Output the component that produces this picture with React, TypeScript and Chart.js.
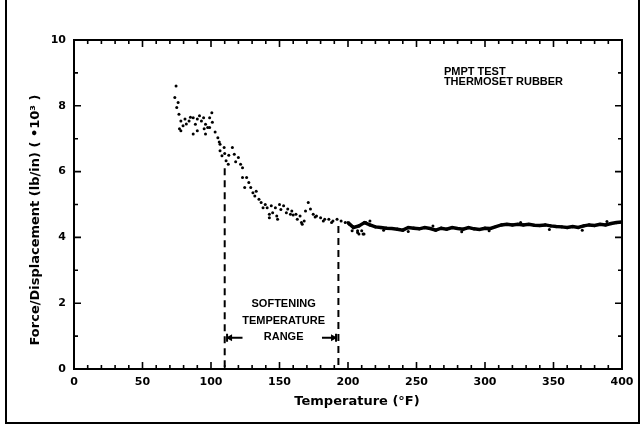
import { useEffect, useRef } from 'react';
import { Chart, registerables } from 'chart.js';

Chart.register(...registerables);

// ---- data ----
const scatterTemp = [
  73.6, 74.5, 75, 76, 76.6, 77, 78, 78, 79.6, 81, 82, 84, 85, 87, 87, 88.6, 90, 90, 91.6, 93,
  94.6, 95, 96, 96, 97.6, 99, 99, 100.6, 101, 103, 105, 106, 106.6, 106.6, 108, 109.6, 110, 111, 112.6, 113,
  115.6, 117, 118, 120, 121.6, 123, 123, 124.6, 126, 127.6, 129, 130.6, 132, 133, 135, 136.6, 138, 139.6, 141, 142.6,
  142.6, 144, 145, 147, 148, 148.6, 150, 151, 153, 155, 156, 158, 159, 160, 162, 163, 165, 166, 166.6, 168,
  169, 171, 172.6, 174.6, 176, 177, 180, 182, 183, 186, 188, 189, 192, 195, 198, 201, 203, 204, 207, 207,
  208, 210, 211, 211.7, 213, 216, 226, 244, 262, 283, 303, 326, 347, 371, 389,
];
const scatterForce = [
  8.25, 8.6, 7.95, 8.1, 7.74, 7.3, 7.54, 7.24, 7.39, 7.6, 7.45, 7.54, 7.65, 7.64, 7.14, 7.44, 7.24, 7.6, 7.7, 7.54,
  7.64, 7.3, 7.44, 7.14, 7.34, 7.64, 7.34, 7.79, 7.5, 7.2, 7.03, 6.9, 6.83, 6.63, 6.48, 6.73, 6.55, 6.33, 6.22, 6.5,
  6.73, 6.53, 6.3, 6.43, 6.22, 6.12, 5.82, 5.52, 5.82, 5.67, 5.52, 5.36, 5.26, 5.4, 5.16, 5.06, 4.9, 5.0, 4.9, 4.7,
  4.6, 4.96, 4.75, 4.9, 4.65, 4.55, 5.0, 4.85, 4.96, 4.75, 4.86, 4.7, 4.8, 4.68, 4.7, 4.55, 4.65, 4.45, 4.4, 4.5,
  4.8, 5.06, 4.86, 4.7, 4.62, 4.65, 4.6, 4.5, 4.55, 4.55, 4.45, 4.5, 4.55, 4.5, 4.45, 4.4, 4.2, 4.3, 4.2, 4.15,
  4.1, 4.2, 4.1, 4.1, 4.45, 4.5, 4.22, 4.18, 4.35, 4.17, 4.2, 4.45, 4.24, 4.22, 4.48,
];
const bandTemp = [
  200, 204, 208, 212, 216, 220, 224, 228, 232, 236, 240, 244, 248, 252, 256, 260, 264, 268, 272, 276,
  280, 284, 288, 292, 296, 300, 304, 308, 312, 316, 320, 324, 328, 332, 336, 340, 344, 348, 352, 356,
  360, 364, 368, 372, 376, 380, 384, 388, 392, 396, 400,
];
const bandForce = [
  4.45, 4.3, 4.35, 4.45, 4.38, 4.32, 4.3, 4.28, 4.27, 4.25, 4.22, 4.3, 4.28, 4.26, 4.3, 4.27, 4.22, 4.28, 4.25, 4.3,
  4.27, 4.25, 4.3, 4.26, 4.24, 4.28, 4.27, 4.33, 4.38, 4.4, 4.38, 4.4, 4.38, 4.4, 4.37, 4.36, 4.38, 4.35, 4.33, 4.32,
  4.3, 4.33, 4.3, 4.35, 4.38, 4.36, 4.4, 4.38, 4.42, 4.45, 4.47,
];
const dashLeftTemp = [110, 110];
const dashLeftForce = [6.1, 0];
const dashRightTemp = [193, 193];
const dashRightForce = [4.35, 0];
const rangeLabelLines = ['SOFTENING', 'TEMPERATURE', 'RANGE'];
const noteLines = ['PMPT TEST', 'THERMOSET RUBBER'];
const xTitle = 'Temperature (°F)';
const yTitle = 'Force/Displacement (lb/in) ( •10³ )';

const FONT = '"DejaVu Sans", "Liberation Sans", sans-serif';
const NOTE_FONT = '"Liberation Sans", "DejaVu Sans", sans-serif';

const pts = (xs: number[], ys: number[]) => xs.map((x, i) => ({ x, y: ys[i] }));

const decorPlugin = {
  id: 'decor',
  beforeDraw(chart: any) {
    const { ctx, width, height } = chart;
    ctx.save();
    ctx.fillStyle = '#ffffff';
    ctx.fillRect(0, 0, width, height);
    ctx.restore();
  },
  afterDraw(chart: any) {
    const { ctx, chartArea } = chart;
    const { left, right, top, bottom } = chartArea;
    const xs = chart.scales.x;
    const ys = chart.scales.y;
    ctx.save();
    ctx.strokeStyle = '#000';
    ctx.fillStyle = '#000';
    // frame
    ctx.lineWidth = 2;
    ctx.strokeRect(left, top, right - left, bottom - top);
    // minor / major ticks, inward
    ctx.lineWidth = 1.6;
    for (let t = 0; t <= 400; t += 10) {
      const px = xs.getPixelForValue(t);
      const len = t % 50 === 0 ? 7 : 4;
      ctx.beginPath();
      ctx.moveTo(px, bottom);
      ctx.lineTo(px, bottom - len);
      ctx.moveTo(px, top);
      ctx.lineTo(px, top + len);
      ctx.stroke();
    }
    for (let f = 0; f <= 10; f += 1) {
      const py = ys.getPixelForValue(f);
      const len = f % 2 === 0 ? 7 : 4;
      ctx.beginPath();
      ctx.moveTo(left, py);
      ctx.lineTo(left + len, py);
      ctx.moveTo(right, py);
      ctx.lineTo(right - len, py);
      ctx.stroke();
    }
    // arrows for range
    const ay = ys.getPixelForValue(0.95);
    const a1 = xs.getPixelForValue(111);
    const a2 = xs.getPixelForValue(123);
    const b1 = xs.getPixelForValue(181);
    const b2 = xs.getPixelForValue(192);
    ctx.lineWidth = 2;
    ctx.beginPath();
    ctx.moveTo(a1, ay);
    ctx.lineTo(a2, ay);
    ctx.moveTo(b1, ay);
    ctx.lineTo(b2, ay);
    ctx.moveTo(a1 + 1, ay - 4);
    ctx.lineTo(a1 + 1, ay + 4);
    ctx.moveTo(b2 - 1, ay - 4);
    ctx.lineTo(b2 - 1, ay + 4);
    ctx.stroke();
    ctx.beginPath();
    ctx.moveTo(a1, ay);
    ctx.lineTo(a1 + 6, ay - 3.5);
    ctx.lineTo(a1 + 6, ay + 3.5);
    ctx.closePath();
    ctx.moveTo(b2, ay);
    ctx.lineTo(b2 - 6, ay - 3.5);
    ctx.lineTo(b2 - 6, ay + 3.5);
    ctx.closePath();
    ctx.fill();
    // range label
    ctx.font = `bold 11px ${NOTE_FONT}`;
    ctx.textAlign = 'center';
    ctx.textBaseline = 'middle';
    const cx = xs.getPixelForValue(153);
    const lineYs = [1.97, 1.47, 0.96];
    rangeLabelLines.forEach((s, i) => ctx.fillText(s, cx, ys.getPixelForValue(lineYs[i])));
    // note
    ctx.textAlign = 'left';
    const nx = xs.getPixelForValue(270);
    const noteYs = [9.03, 8.72];
    noteLines.forEach((s, i) => ctx.fillText(s, nx, ys.getPixelForValue(noteYs[i])));
    // axis titles
    ctx.font = `bold 13px ${FONT}`;
    ctx.textAlign = 'center';
    ctx.fillText(xTitle, 357, 402);
    ctx.save();
    ctx.translate(36, 220);
    ctx.rotate(-Math.PI / 2);
    ctx.fillText(yTitle, 0, 0);
    ctx.restore();
    // outer scan border
    ctx.lineWidth = 2;
    ctx.beginPath();
    ctx.moveTo(6, 0);
    ctx.lineTo(6, 423);
    ctx.lineTo(639, 423);
    ctx.lineTo(639, 0);
    ctx.stroke();
    ctx.restore();
  },
};

export default function App() {
  const ref = useRef<HTMLCanvasElement | null>(null);
  useEffect(() => {
    document.body.style.margin = '0';
    const canvas = ref.current!;
    const chart = new Chart(canvas, {
      type: 'scatter',
      data: {
        datasets: [
          {
            data: pts(scatterTemp, scatterForce),
            backgroundColor: '#000',
            borderColor: '#000',
            pointRadius: 1.5,
            pointBorderWidth: 0,
            showLine: false,
          },
          {
            data: pts(bandTemp, bandForce),
            borderColor: '#000',
            backgroundColor: '#000',
            borderWidth: 3.5,
            pointRadius: 1.6,
            pointBorderWidth: 0,
            showLine: true,
          },
          {
            data: pts(dashLeftTemp, dashLeftForce),
            borderColor: '#000',
            borderWidth: 2,
            borderDash: [7, 5],
            pointRadius: 0,
            showLine: true,
          },
          {
            data: pts(dashRightTemp, dashRightForce),
            borderColor: '#000',
            borderWidth: 2,
            borderDash: [7, 5],
            pointRadius: 0,
            showLine: true,
          },
        ],
      },
      options: {
        animation: false,
        responsive: false,
        devicePixelRatio: 1,
        layout: { padding: { top: 40, right: 20, left: 0, bottom: 0 } },
        plugins: { legend: { display: false }, tooltip: { enabled: false } },
        scales: {
          x: {
            type: 'linear',
            min: 0,
            max: 400,
            grid: { display: false, drawTicks: false },
            border: { display: false },
            ticks: {
              stepSize: 50,
              padding: 7,
              color: '#000',
              maxRotation: 0,
              font: { family: FONT, weight: 'bold', size: 11 },
            },
            afterFit: (s: any) => {
              s.height = 58;
            },
          },
          y: {
            type: 'linear',
            min: 0,
            max: 10,
            grid: { display: false, drawTicks: false },
            border: { display: false },
            ticks: {
              stepSize: 2,
              padding: 8,
              color: '#000',
              font: { family: FONT, weight: 'bold', size: 11 },
            },
            afterFit: (s: any) => {
              s.width = 74;
            },
          },
        },
      },
      plugins: [decorPlugin],
    });
    return () => chart.destroy();
  }, []);
  return (
    <div style={{ position: 'fixed', left: 0, top: 0, width: 642, height: 427, background: '#fff' }}>
      <canvas ref={ref} width={642} height={427} />
    </div>
  );
}
